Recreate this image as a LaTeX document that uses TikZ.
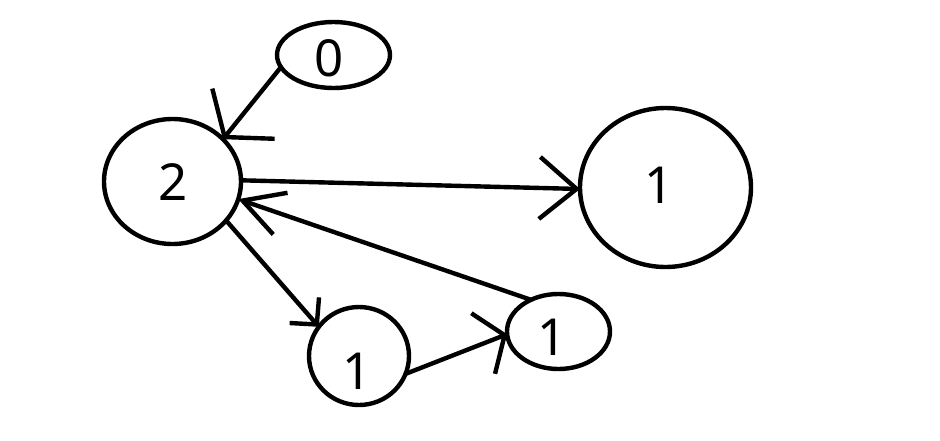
\documentclass[tikz,border=0pt]{standalone}
\usepackage{fontspec}
\setmainfont{Noto Sans}
\usetikzlibrary{arrows.meta,shapes.geometric}
\tikzset{
  stnode/.style n args={2}{ellipse, draw, line width=4.4pt, inner sep=0pt, outer sep=0pt,
    minimum width=#1pt, minimum height=#2pt},
  digit/.style={inner sep=0pt, font=\fontsize{51}{60}\selectfont},
  conn/.style={line width=4.4pt, line cap=round},
}
\begin{document}
\begin{tikzpicture}[x=1pt,y=-1pt]
\useasboundingbox[fill=white] (0,0) rectangle (940,440);
\node[stnode={113}{66}]  (n0) at (333.5,55) {};
\node[stnode={137}{125}] (n2) at (172.5,181.5) {};
\node[stnode={171}{159}] (nb) at (665.5,187.5) {};
\node[stnode={100}{98}]  (nl) at (359,356) {};
\node[stnode={103}{75}]  (ns) at (558.5,331.5) {};
\node[digit] (t0) at (329,58) {0};
\node[digit] (t2) at (173,182) {2};
\node[digit] (tb) at (659,185) {1};
\node[digit] (tl) at (357.5,371) {1};
\node[digit] (ts) at (552.5,337.5) {1};
\draw[conn, -{Straight Barb[length=30pt,width=80pt,line width=4.4pt]}] (n0.193.7) -- (n2.40.9);
\draw[conn, -{Straight Barb[length=37pt,width=62pt,line width=4.4pt]}] (n2.1.2) -- (nb.181.7);
\draw[conn, -{Straight Barb[length=40pt,width=44pt,line width=4.4pt]}] (ns.131.6) -- (n2.-15.3);
\draw[conn, -{Straight Barb[length=19pt,width=39pt,line width=4.4pt]}] (n2.-36.1) -- (nl.144.3);
\draw[conn, -{Straight Barb[length=23pt,width=65pt,line width=4.4pt]}] (nl.-21.2) -- (ns.183.6);
\end{tikzpicture}
\end{document}
